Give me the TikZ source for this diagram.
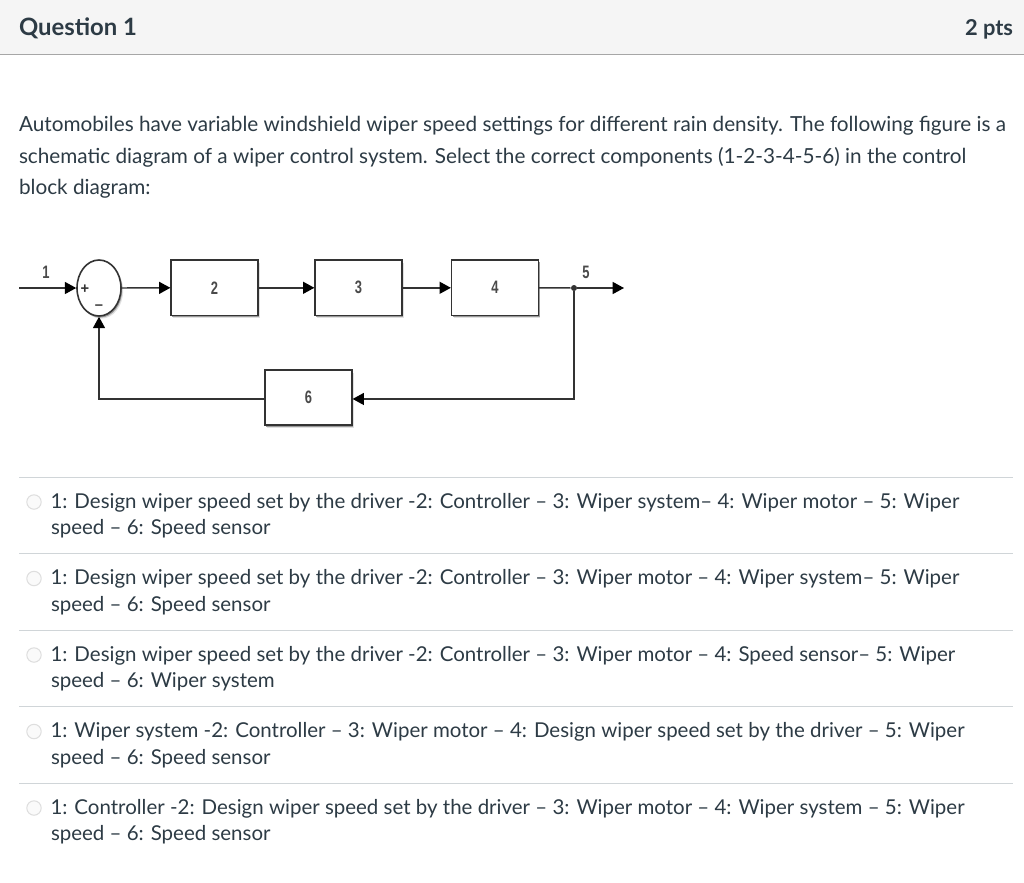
\documentclass[tikz,border=0pt]{standalone}
\usepackage{fontspec}
\usepackage{graphicx}
\setmainfont{Lato}
\newfontfamily\dgfont{Liberation Sans}
\newcommand{\dg}[1]{\scalebox{.72}[1]{\dgfont\bfseries\fontsize{13.5}{14}\selectfont #1}}
\usetikzlibrary{arrows.meta,shapes.geometric}
\definecolor{ink}{HTML}{2D3B45}
\definecolor{head}{HTML}{F5F5F5}
\definecolor{rule}{HTML}{D0D5D8}
\definecolor{diag}{HTML}{333333}
\definecolor{digit}{HTML}{4A4A4A}
\tikzset{
  x=0.75pt,y=-0.75pt,
  txt/.style={anchor=base west,inner sep=0,outer sep=0,text=ink,font=\fontsize{15.36}{18}\selectfont},
  bodytxt/.style={txt,font=\fontsize{15.55}{18}\selectfont},
  htxt/.style={txt,font=\fontsize{17.9}{20}\selectfont\bfseries},
  ptstxt/.style={txt,anchor=base east,font=\fontsize{16.4}{20}\selectfont\bfseries},
  softshadow/.style={preaction={draw=none,fill=black!12,transform canvas={xshift=1.6pt,yshift=-2pt}},
    preaction={draw=none,fill=black!40,transform canvas={xshift=.9pt,yshift=-1.2pt}}},
  blockbox/.style={draw=diag,line width=1.2pt,fill=white,minimum width=65pt,minimum height=41.5pt,inner sep=0,
    text=digit,softshadow},
  sumnode/.style={ellipse,draw=diag,line width=1.2pt,fill=white,minimum width=33pt,minimum height=42pt,inner sep=0,softshadow},
  flow/.style={draw=diag,line width=1.1pt,-{Triangle[length=8.5pt,width=9pt,color=black]}},
  wire/.style={draw=diag,line width=1.1pt},
  lbl/.style={inner sep=0,text=digit},
  signlbl/.style={inner sep=0,text=diag,font=\dgfont\fontsize{11}{12}\selectfont\bfseries},
  radio/.style={circle,draw=black!13,line width=.8pt,fill=black!2,minimum size=10.8pt,inner sep=0},
  sep/.style={draw=rule,line width=.75pt}
}
\begin{document}
\begin{tikzpicture}
\useasboundingbox (0,0) rectangle (1024,882);
\fill[white] (0,0) rectangle (1024,882);
\fill[head] (0,0) rectangle (1024,54);
\draw[draw=black!35,line width=1.1pt] (0,54.5) -- (1024,54.5);
\node[htxt] (q) at (19,35) {Question 1};
\node[ptstxt] (pts) at (1013,35) {2 pts};
\node[bodytxt] (t1) at (19,131) {Automobiles have variable windshield wiper speed settings for different rain density. The following figure is a};
\node[bodytxt] (t2) at (19,163) {schematic diagram of a wiper control system. Select the correct components (1-2-3-4-5-6) in the control};
\node[bodytxt] (t3) at (19,194) {block diagram:};
% diagram
\node[blockbox] (b2) at (214.5,287.8) {\dg{2}};
\node[blockbox] (b3) at (358.5,287.8) {\dg{3}};
\node[blockbox] (b4) at (495,287.8) {\dg{4}};
\node[blockbox] (b6) at (308.5,397.5) {\dg{6}};
\node[sumnode] (sum) at (99,288) {};
\node[signlbl] (plus) at (85,289) {+};
\node[signlbl] (minus) at (99,307) {–};
\coordinate (in) at (19,288);
\coordinate (out) at (624,288);
\node[circle,fill=diag,minimum size=4.5pt,inner sep=0] (jct) at (574,288) {};
\node[lbl] (l1) at (46,272.5) {\dg{1}};
\node[lbl] (l5) at (586,272.5) {\dg{5}};
\draw[flow] (in) -- (sum.west);
\draw[flow] (sum.east) -- (b2.west);
\draw[flow] (b2.east) -- (b3.west);
\draw[flow] (b3.east) -- (b4.west);
\draw[wire] (b4.east) -- (jct);
\draw[flow] (jct) -- (out);
\draw[flow] (jct) |- ([yshift=-1.1pt]b6.east);
\draw[flow] ([yshift=-1.1pt]b6.west) -| (sum.south);
% options
\draw[sep] (19,477.5) -- (1013,477.5);
\draw[sep] (19,553.5) -- (1013,553.5);
\draw[sep] (19,630.5) -- (1013,630.5);
\draw[sep] (19,706.5) -- (1013,706.5);
\draw[sep] (19,783.5) -- (1013,783.5);
\node[radio] (r1) at (34,502) {};
\node[radio] (r2) at (34,578.5) {};
\node[radio] (r3) at (34,655) {};
\node[radio] (r4) at (34,731.5) {};
\node[radio] (r5) at (34,808) {};
\node[txt] (o1a) at (50.5,508) {1: Design wiper speed set by the driver -2: Controller – 3: Wiper system– 4: Wiper motor – 5: Wiper};
\node[txt] (o1b) at (51,534) {speed – 6: Speed sensor};
\node[txt] (o2a) at (50.5,584) {1: Design wiper speed set by the driver -2: Controller – 3: Wiper motor – 4: Wiper system– 5: Wiper};
\node[txt] (o2b) at (51,611) {speed – 6: Speed sensor};
\node[txt] (o3a) at (50.5,661) {1: Design wiper speed set by the driver -2: Controller – 3: Wiper motor – 4: Speed sensor– 5: Wiper};
\node[txt] (o3b) at (51,687) {speed – 6: Wiper system};
\node[txt] (o4a) at (50.5,737) {1: Wiper system -2: Controller – 3: Wiper motor – 4: Design wiper speed set by the driver – 5: Wiper};
\node[txt] (o4b) at (51,764) {speed – 6: Speed sensor};
\node[txt] (o5a) at (50.5,814) {1: Controller -2: Design wiper speed set by the driver – 3: Wiper motor – 4: Wiper system – 5: Wiper};
\node[txt] (o5b) at (51,840) {speed – 6: Speed sensor};
\end{tikzpicture}
\end{document}
